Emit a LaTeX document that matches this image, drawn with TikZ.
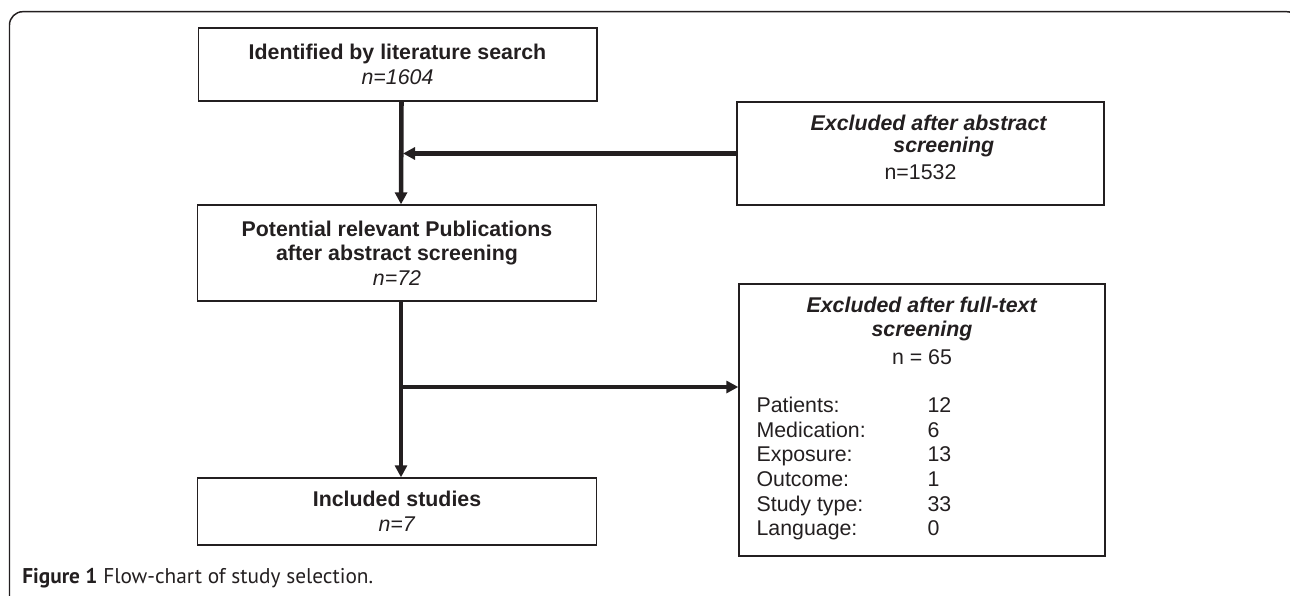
\documentclass[tikz,border=0pt]{standalone}
\usepackage{fontspec}
\setmainfont{Liberation Sans}
\newfontfamily\capfont{PT Sans}
\usetikzlibrary{positioning,arrows.meta}
\definecolor{ink}{HTML}{231F20}

\begin{document}
\begin{tikzpicture}[x=0.75pt,y=-0.75pt,
    box/.style={draw=ink, line width=1pt, minimum width=299pt, align=center, inner sep=0pt},
    flow/.style={draw=ink, line width=3.4pt, -{Triangle[length=9pt,width=9pt]}},
    font=\fontsize{16}{18.5}\selectfont, text=ink]
    \useasboundingbox (0,0) rectangle (1290,596);

    % open frame round the figure
    \draw[ink, line width=1.1pt, rounded corners=10pt] (9.5,600) -- (9.5,11.7) -- (1300,11.7) -- (1300,100);

    % main column
    \node[box, minimum height=54.75pt] (ident) at (397.5,64.5)
      {\textbf{Identified by literature search}\\\textit{n=1604}};
    \node[box, minimum height=72pt] (pot) at (397,253)
      {\textbf{Potential relevant Publications}\\\textbf{after abstract screening}\\\textit{n=72}};
    \node[box, minimum height=50.25pt] (incl) at (397,511.5)
      {\textbf{Included studies}\\\textit{n=7}};

    % exclusion boxes
    \node[box, minimum width=275.25pt, minimum height=77.25pt] (exA) at (920.5,153.5) {};
    \node[below=9.75pt of exA.north, align=center, inner sep=0pt] (exAtxt)
      {\hspace*{12.75pt}\textbf{\textit{Excluded after abstract}}\\[-1.5pt]
       \hspace*{35pt}\textbf{\textit{screening}}\\[1.5pt]n=1532};

    \node[box, minimum width=274.5pt, minimum height=204pt] (exB) at (922,420) {};
    \node[below=9.75pt of exB.north, align=center, inner sep=0pt] (exBtxt)
      {\textbf{\textit{Excluded after full-text}}\\\textbf{\textit{screening}}\\[2pt]n = 65};
    \node[below right=83.8pt and 13.5pt of exB.north west, inner sep=0pt] (reasons)
      {\begin{tabular}{@{}p{116.25pt}l@{}}
        Patients: & 12\\
        Medication: & 6\\
        Exposure: & 13\\
        Outcome: & 1\\
        Study type: & 33\\
        Language: & 0
      \end{tabular}};

    % connectors
    \coordinate (split) at (401,387);
    \draw[flow] ([xshift=3pt]ident.south) -- ([xshift=3pt]pot.north);
    \draw[flow, shorten >=1.5pt] (exA.west) -- (exA.west -| split);
    \draw[flow] ([xshift=3pt]pot.south) -- ([xshift=3pt]incl.north);
    \draw[flow] (split) -- (split -| exB.west);

    \node[anchor=base west, inner sep=0pt] (cap) at (22,583)
      {\capfont\fontsize{16}{18}\selectfont\textbf{Figure 1} Flow-chart of study selection.};
\end{tikzpicture}
\end{document}
